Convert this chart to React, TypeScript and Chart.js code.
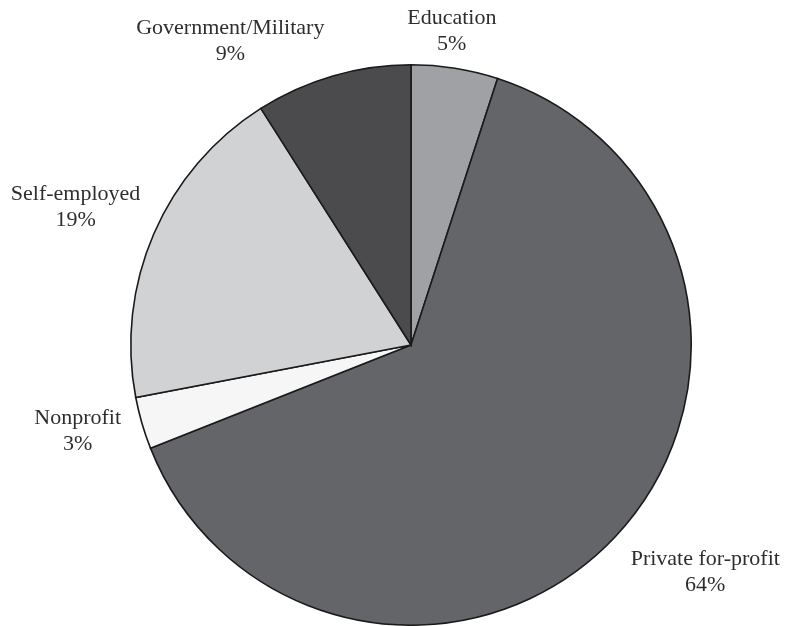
import React, { useEffect, useRef } from "react";
import { Chart, registerables } from "chart.js";

Chart.register(...registerables);

const categories = ["Education", "Private for-profit", "Nonprofit", "Self-employed", "Government/Military"];
const shares = [5, 64, 3, 19, 9];
const sliceColors = ["#a0a1a4", "#646569", "#f6f6f6", "#d1d2d4", "#4b4b4e"];
// label nudges (px) relative to an anchor placed outside each slice's mid-angle
const labelNudges: [number, number][] = [
  [-14, 32],
  [39, -13],
  [3, -11],
  [-14, 1],
  [-83, 33],
];

const labelPlugin = {
  id: "outerLabels",
  afterDraw(chart: any) {
    const ctx = chart.ctx;
    const meta = chart.getDatasetMeta(0);
    ctx.save();
    ctx.font = '22px "Liberation Serif", "DejaVu Serif", serif';
    ctx.fillStyle = "#2e2e2e";
    ctx.textAlign = "center";
    ctx.textBaseline = "middle";
    meta.data.forEach((arc: any, i: number) => {
      const { x, y, startAngle, endAngle, outerRadius } = arc.getProps(
        ["x", "y", "startAngle", "endAngle", "outerRadius"],
        true
      );
      const mid = (startAngle + endAngle) / 2;
      const d = outerRadius + 70;
      const ax = x + Math.cos(mid) * d + labelNudges[i][0];
      const ay = y + Math.sin(mid) * d + labelNudges[i][1];
      ctx.fillText(categories[i], ax, ay - 13);
      ctx.fillText(shares[i] + "%", ax, ay + 13);
    });
    ctx.restore();
  },
};

export default function App() {
  const ref = useRef<HTMLCanvasElement | null>(null);
  useEffect(() => {
    document.body.style.margin = "0";
    const canvas = ref.current;
    if (!canvas) return;
    const chart = new Chart(canvas, {
      type: "pie",
      data: {
        labels: categories,
        datasets: [
          {
            data: shares,
            backgroundColor: sliceColors,
            borderColor: "#1a1a1a",
            borderWidth: 1.6,
            borderJoinStyle: "miter" as any,
          },
        ],
      },
      options: {
        responsive: false,
        animation: false,
        layout: { padding: { left: 129, right: 94, top: 64, bottom: -1 } },
        plugins: {
          legend: { display: false },
          tooltip: { enabled: false },
          title: { display: false },
        },
      },
      plugins: [labelPlugin],
    });
    return () => chart.destroy();
  }, []);
  return (
    <div style={{ width: 787, height: 626, background: "#ffffff" }}>
      <canvas ref={ref} width={787} height={626} style={{ display: "block" }} />
    </div>
  );
}
